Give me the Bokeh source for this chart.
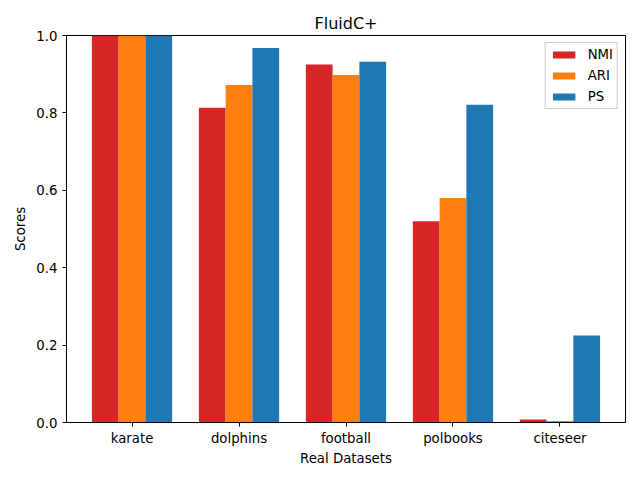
from bokeh.plotting import figure
from bokeh.models import ColumnDataSource, Range1d, FixedTicker, Legend, LegendItem
from bokeh.transform import dodge
from bokeh.embed import file_html
from bokeh.resources import INLINE

datasets = ["karate", "dolphins", "football", "polbooks", "citeseer"]
nmi = [1.0, 0.813, 0.925, 0.520, 0.008]
ari = [1.0, 0.872, 0.898, 0.580, 0.004]
ps = [1.0, 0.968, 0.932, 0.821, 0.225]
y_ticks = [0.0, 0.2, 0.4, 0.6, 0.8, 1.0]

source = ColumnDataSource(dict(x=list(range(len(datasets))), nmi=nmi, ari=ari, ps=ps))

FONT = "DejaVu Sans"
p = figure(width=632, height=472, output_backend="svg", toolbar_location=None,
           x_range=Range1d(-0.6125, len(datasets) - 1 + 0.6125), y_range=Range1d(0, 1),
           title="FluidC+", min_border_left=66, min_border_right=7,
           min_border_top=35, min_border_bottom=50)
p.title.align = "center"
p.title.text_font = FONT
p.title.text_font_size = "16px"
p.title.text_font_style = "normal"
p.title.text_color = "black"
p.title.offset = 0
p.title.standoff = 6

w = 0.25
r1 = p.vbar(x=dodge("x", -w, range=p.x_range), top="nmi", width=w, source=source,
            color="#d62728", line_color=None)
r2 = p.vbar(x=dodge("x", 0, range=p.x_range), top="ari", width=w, source=source,
            color="#ff7f0e", line_color=None)
r3 = p.vbar(x=dodge("x", w, range=p.x_range), top="ps", width=w, source=source,
            color="#1f77b4", line_color=None)

p.xgrid.visible = False
p.ygrid.visible = False
p.outline_line_color = "black"
p.outline_line_alpha = 1
p.outline_line_width = 1

p.xaxis.ticker = FixedTicker(ticks=list(range(len(datasets))))
p.xaxis.major_label_overrides = {i: d for i, d in enumerate(datasets)}
p.yaxis.ticker = FixedTicker(ticks=y_ticks)
p.yaxis.major_label_overrides = {t: f"{t:.1f}" for t in y_ticks}
for ax in (p.xaxis, p.yaxis):
    ax.minor_tick_line_color = None
    ax.major_tick_in = 0
    ax.major_tick_out = 4
    ax.axis_line_color = "black"
    ax.major_label_text_font = FONT
    ax.major_label_text_font_size = "13.3px"
    ax.major_label_text_color = "black"
    ax.axis_label_text_font = FONT
    ax.axis_label_text_font_size = "13.3px"
    ax.axis_label_text_font_style = "normal"
    ax.axis_label_text_color = "black"
p.xaxis.axis_label = "Real Datasets"
p.yaxis.axis_label = "Scores"
p.xaxis.major_label_standoff = 4
p.yaxis.major_label_standoff = 5
p.xaxis.axis_label_standoff = 2
p.yaxis.axis_label_standoff = 5

legend = Legend(items=[LegendItem(label="NMI", renderers=[r1]),
                       LegendItem(label="ARI", renderers=[r2]),
                       LegendItem(label="PS", renderers=[r3])],
                location="top_right")
legend.label_text_font = FONT
legend.label_text_font_size = "13.3px"
legend.label_text_color = "black"
legend.border_line_color = "#cccccc"
legend.border_line_alpha = 1
legend.margin = 7
legend.padding = 4
legend.spacing = 6
legend.glyph_width = 28
legend.glyph_height = 9
legend.label_standoff = 10
legend.label_height = 15
p.add_layout(legend)

open("out.html", "w").write(file_html(p, INLINE))
